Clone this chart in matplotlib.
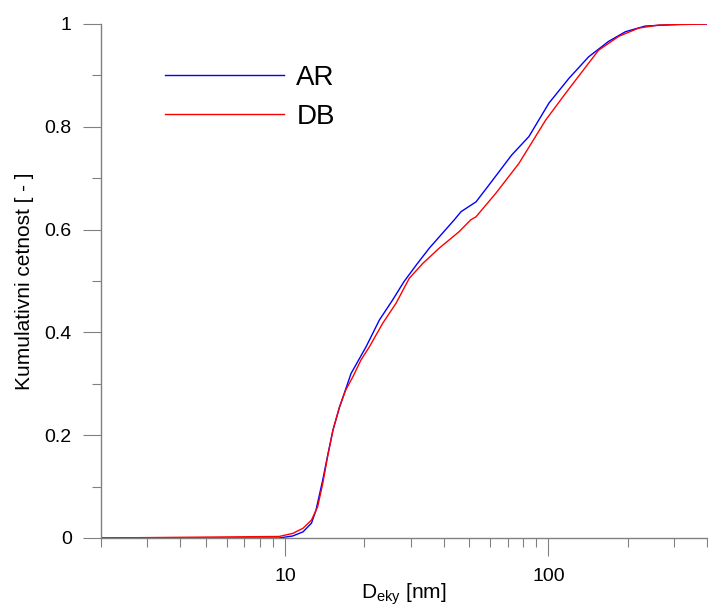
import matplotlib

matplotlib.use("Agg")
import matplotlib.pyplot as plt
from matplotlib.ticker import FixedLocator, FixedFormatter, NullFormatter

plt.rcParams["font.family"] = ["Liberation Sans", "DejaVu Sans"]
plt.rcParams["mathtext.default"] = "regular"

# cumulative size distributions
ar_d = [2, 9.5, 10.7, 11.7, 12.6, 13.1, 13.9, 14.5, 15.2, 16.1, 17.0, 17.8,
        20.3, 22.8, 25.6, 28.3, 31.8, 35.3, 39.6, 43.9, 46.6, 53.1, 59.5,
        72.5, 84.3, 100.4, 119.5, 142, 169, 196, 233, 332, 400]
ar_cdf = [0, 0, 0.004, 0.012, 0.029, 0.054, 0.113, 0.16, 0.21, 0.255, 0.29,
          0.32, 0.372, 0.424, 0.463, 0.499, 0.534, 0.564, 0.593, 0.619, 0.635,
          0.654, 0.687, 0.745, 0.781, 0.846, 0.894, 0.936, 0.966, 0.985,
          0.996, 1.0, 1.0]

db_d = [2, 9.5, 10.7, 11.7, 12.6, 13.3, 13.9, 14.5, 15.2, 16.1, 17.0, 18.1,
        19.4, 20.9, 23.5, 26.4, 29.6, 33.3, 38.5, 42.0, 45.8, 50.7, 53.1,
        63.2, 77.3, 97.6, 116.1, 130, 155, 185, 220, 262, 400]
db_cdf = [0, 0.003, 0.009, 0.019, 0.035, 0.061, 0.106, 0.158, 0.21, 0.255,
          0.288, 0.314, 0.346, 0.372, 0.418, 0.457, 0.505, 0.534, 0.564,
          0.58, 0.596, 0.619, 0.625, 0.671, 0.729, 0.813, 0.865, 0.898,
          0.949, 0.976, 0.992, 0.998, 1.0]

y_ticks = [0, 0.2, 0.4, 0.6, 0.8, 1.0]
y_tick_labels = ["0", "0.2", "0.4", "0.6", "0.8", "1"]
y_minor = [0.1, 0.3, 0.5, 0.7, 0.9]
x_ticks = [10, 100]
x_tick_labels = ["10", "100"]
x_minor = [2, 3, 4, 5, 6, 7, 8, 9, 20, 30, 40, 50, 60, 70, 80, 90,
           200, 300, 400]

W, H = 708, 610
fig = plt.figure(figsize=(W / 100, H / 100), dpi=100)
ax = fig.add_axes([101 / W, 72 / H, 606 / W, 514 / H])

ax.plot(ar_d, ar_cdf, color="#0000ff", lw=1.0, label="AR")
ax.plot(db_d, db_cdf, color="#ff0000", lw=1.0, label="DB")

ax.set_xscale("log")
ax.set_xlim(2, 400)
ax.set_ylim(0, 1)

ax.xaxis.set_major_locator(FixedLocator(x_ticks))
ax.xaxis.set_major_formatter(FixedFormatter(x_tick_labels))
ax.xaxis.set_minor_locator(FixedLocator(x_minor))
ax.xaxis.set_minor_formatter(NullFormatter())
ax.yaxis.set_major_locator(FixedLocator(y_ticks))
ax.yaxis.set_major_formatter(FixedFormatter(y_tick_labels))
ax.yaxis.set_minor_locator(FixedLocator(y_minor))

gray = "#808080"
for side in ("top", "right"):
    ax.spines[side].set_visible(False)
for side in ("left", "bottom"):
    ax.spines[side].set_color(gray)
    ax.spines[side].set_linewidth(1.0)

ax.tick_params(which="major", length=13, width=0.8, color=gray,
               labelsize=14, labelcolor="black", direction="out")
ax.tick_params(which="minor", length=6.5, width=0.8, color=gray,
               direction="out")
ax.tick_params(axis="y", which="major", pad=8)
ax.tick_params(axis="x", which="major", pad=8.5)

ax.set_ylabel("Kumulativni cetnost [ - ]", fontsize=15)
ax.yaxis.set_label_coords(-0.11, 0.5)
ax.set_xlabel(r"D$_{eky}$ [nm]", fontsize=15)
ax.xaxis.set_label_coords(0.5, -0.085)

ax.legend(loc="upper left", bbox_to_anchor=(165 / W, 1 - 65 / H),
          bbox_transform=fig.transFigure, frameon=False, fontsize=20,
          handlelength=4.3, handletextpad=0.43, labelspacing=0.47,
          borderpad=0, borderaxespad=0)

fig.savefig("out.png", dpi=100)
